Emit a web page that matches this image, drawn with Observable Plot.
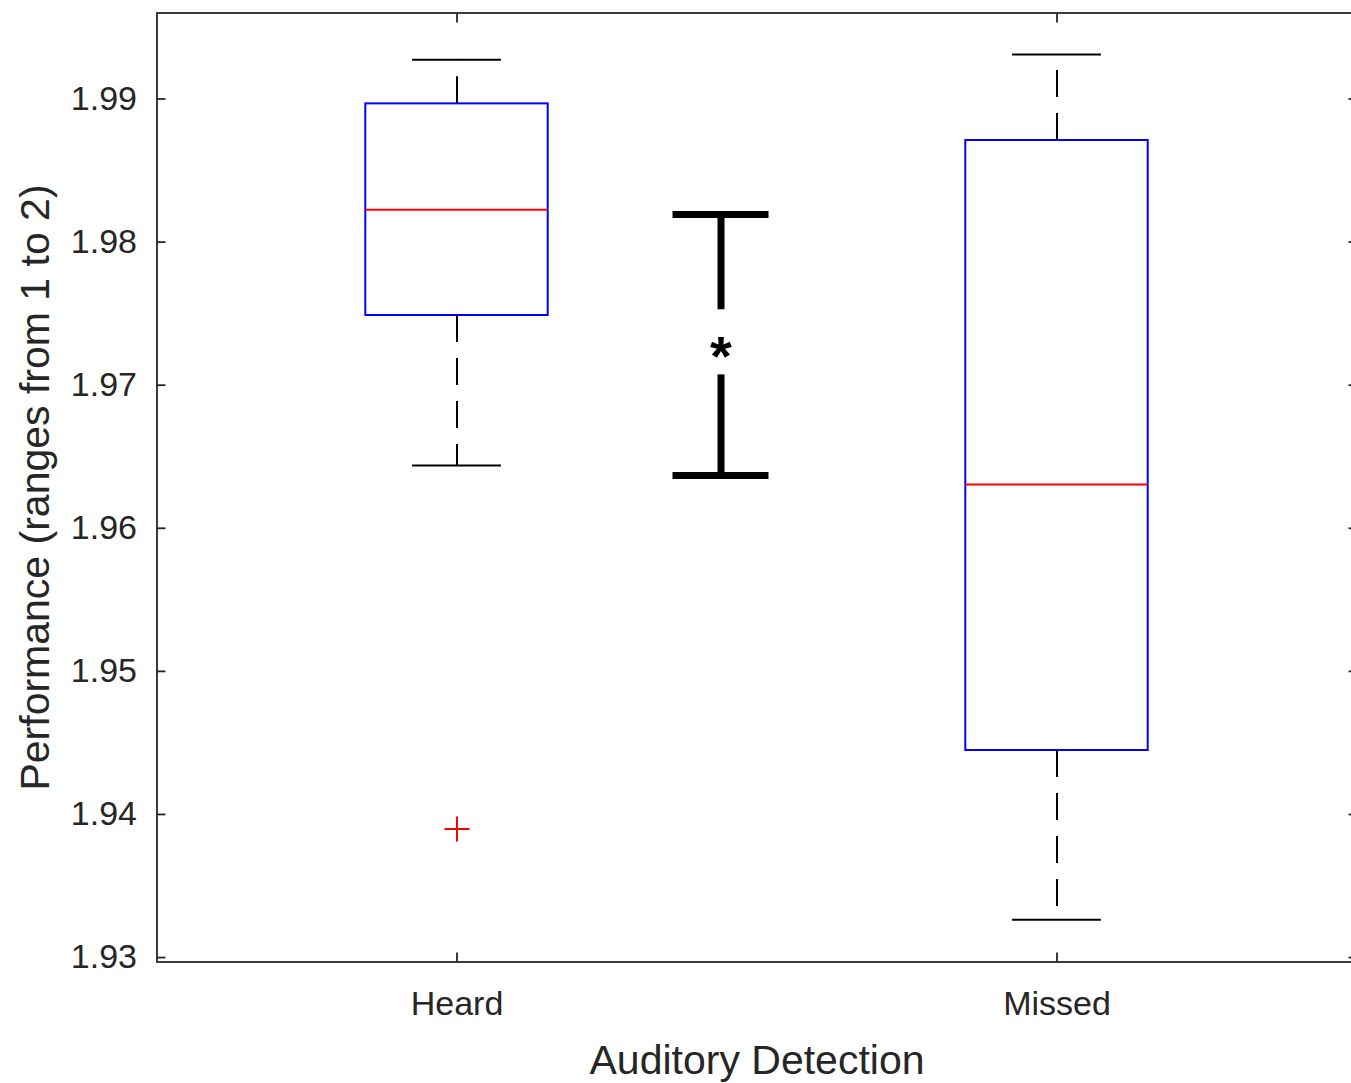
<!DOCTYPE html>
<html><head><meta charset="utf-8">
<script src="https://cdn.jsdelivr.net/npm/d3@7"></script>
<script src="https://cdn.jsdelivr.net/npm/@observablehq/plot@0.6"></script>
<style>html,body{margin:0;padding:0;background:#fff;} #chart svg{display:block;}</style>
</head><body><div id="chart"></div>
<script>
// ---- data ----
const groups = ["Heard", "Missed"];
const positions = [1, 2];
const upperWhisker = [1.99274, 1.99311];
const q3 = [1.98966, 1.98710];
const medians = [1.98226, 1.96306];
const q1 = [1.97487, 1.94447];
const lowerWhisker = [1.96439, 1.93265];
const outlierGroup = [1];
const outlierValue = [1.93899];
const bracketX = [1.44];
const bracketTop = [1.98193];
const bracketBottom = [1.96369];
const bracketGapTop = [1.97527];
const bracketGapBottom = [1.97072];
const asteriskY = [1.97242];
const yTicks = [1.93, 1.94, 1.95, 1.96, 1.97, 1.98, 1.99];
const yDomain = [1.92969, 1.99601];
const xDomain = [0.5, 2.5];
const xLabel = "Auditory Detection";
const yLabel = "Performance (ranges from 1 to 2)";

// ---- build tables ----
const BOX_HW = 0.152, CAP_HW = 0.074, BR_HW = 0.08;
const boxes = groups.map((g, i) => ({
  g, x: positions[i], hi: upperWhisker[i], q3: q3[i], med: medians[i], q1: q1[i], lo: lowerWhisker[i]
}));
const outliers = outlierGroup.map((p, i) => ({x: p, y: outlierValue[i]}));
const bracket = bracketX.map((x, i) => ({x, top: bracketTop[i], bot: bracketBottom[i], gt: bracketGapTop[i], gb: bracketGapBottom[i], a: asteriskY[i]}));

const plusSymbol = {
  draw(context, size) {
    const r = Math.sqrt(size / Math.PI);
    context.moveTo(-r, 0); context.lineTo(r, 0);
    context.moveTo(0, -r); context.lineTo(0, r);
  }
};

const font = "'Liberation Sans', Arial, Helvetica, sans-serif";
const axisColor = "#262626";
const LW = 2;

const chart = Plot.plot({
  width: 1351,
  height: 1083,
  marginLeft: 156.5,
  marginRight: -5.5,
  marginTop: 12.5,
  marginBottom: 121.5,
  style: {fontFamily: font, fontSize: "34px", color: axisColor, background: "#fff"},
  x: {type: "linear", domain: xDomain, axis: null},
  y: {domain: yDomain, axis: null},
  marks: [
    // boxes
    Plot.rect(boxes, {x1: d => d.x - BOX_HW, x2: d => d.x + BOX_HW, y1: "q1", y2: "q3", fill: "none", stroke: "#0000ff", strokeWidth: LW}),
    Plot.ruleY(boxes, {y: "med", x1: d => d.x - BOX_HW, x2: d => d.x + BOX_HW, stroke: "#ff0000", strokeWidth: LW}),
    // whiskers
    Plot.ruleX(boxes, {x: "x", y1: "q3", y2: "hi", stroke: "#000", strokeWidth: LW, strokeDasharray: "27,16"}),
    Plot.ruleX(boxes, {x: "x", y1: "q1", y2: "lo", stroke: "#000", strokeWidth: LW, strokeDasharray: "27,16"}),
    Plot.ruleY(boxes, {y: "hi", x1: d => d.x - CAP_HW, x2: d => d.x + CAP_HW, stroke: "#000", strokeWidth: LW}),
    Plot.ruleY(boxes, {y: "lo", x1: d => d.x - CAP_HW, x2: d => d.x + CAP_HW, stroke: "#000", strokeWidth: LW}),
    // outliers
    Plot.dot(outliers, {x: "x", y: "y", symbol: plusSymbol, r: 12.5, stroke: "#ff0000", fill: "none", strokeWidth: LW}),
    // significance bracket
    Plot.ruleY(bracket, {y: "top", x1: d => d.x - BR_HW, x2: d => d.x + BR_HW, stroke: "#000", strokeWidth: 7}),
    Plot.ruleY(bracket, {y: "bot", x1: d => d.x - BR_HW, x2: d => d.x + BR_HW, stroke: "#000", strokeWidth: 7}),
    Plot.ruleX(bracket, {x: "x", y1: "top", y2: "gt", stroke: "#000", strokeWidth: 7}),
    Plot.ruleX(bracket, {x: "x", y1: "gb", y2: "bot", stroke: "#000", strokeWidth: 7}),
    Plot.text(bracket, {x: "x", y: "a", text: () => "*", fontSize: 56, fontWeight: "bold", fill: "#000", lineAnchor: "middle", dy: 7}),
    // axes: frame + inward ticks
    Plot.frame({stroke: axisColor, strokeWidth: 1.8}),
    Plot.axisY({anchor: "left", ticks: yTicks, tickSize: -9, tickFormat: () => "", label: null, stroke: axisColor, strokeWidth: 1.8}),
    Plot.axisY({anchor: "right", ticks: yTicks, tickSize: -9, tickFormat: () => "", label: null, stroke: axisColor, strokeWidth: 1.8}),
    Plot.axisX({anchor: "bottom", ticks: positions, tickSize: -9, tickFormat: () => "", label: null, stroke: axisColor, strokeWidth: 1.8}),
    Plot.axisX({anchor: "top", ticks: positions, tickSize: -9, tickFormat: () => "", label: null, stroke: axisColor, strokeWidth: 1.8}),
    Plot.axisY({anchor: "left", ticks: yTicks, tickSize: 0, tickPadding: 20, tickFormat: d3.format(".2f"), label: null, fill: axisColor, fontSize: 34}),
    Plot.axisX({anchor: "bottom", ticks: positions, tickSize: 0, tickPadding: 29, tickFormat: d => groups[positions.indexOf(d)], label: null, fill: axisColor, fontSize: 34}),
    // axis titles
    Plot.text([yLabel], {text: d => d, frameAnchor: "left", rotate: -90, dx: 35 - 156.5, fontSize: 41, fill: axisColor, textAnchor: "middle", lineAnchor: "middle"}),
    Plot.text([xLabel], {text: d => d, frameAnchor: "bottom", dy: 98.5, fontSize: 41, fill: axisColor, textAnchor: "middle", lineAnchor: "middle"})
  ]
});
document.getElementById("chart").appendChild(chart);
</script>
</body></html>
